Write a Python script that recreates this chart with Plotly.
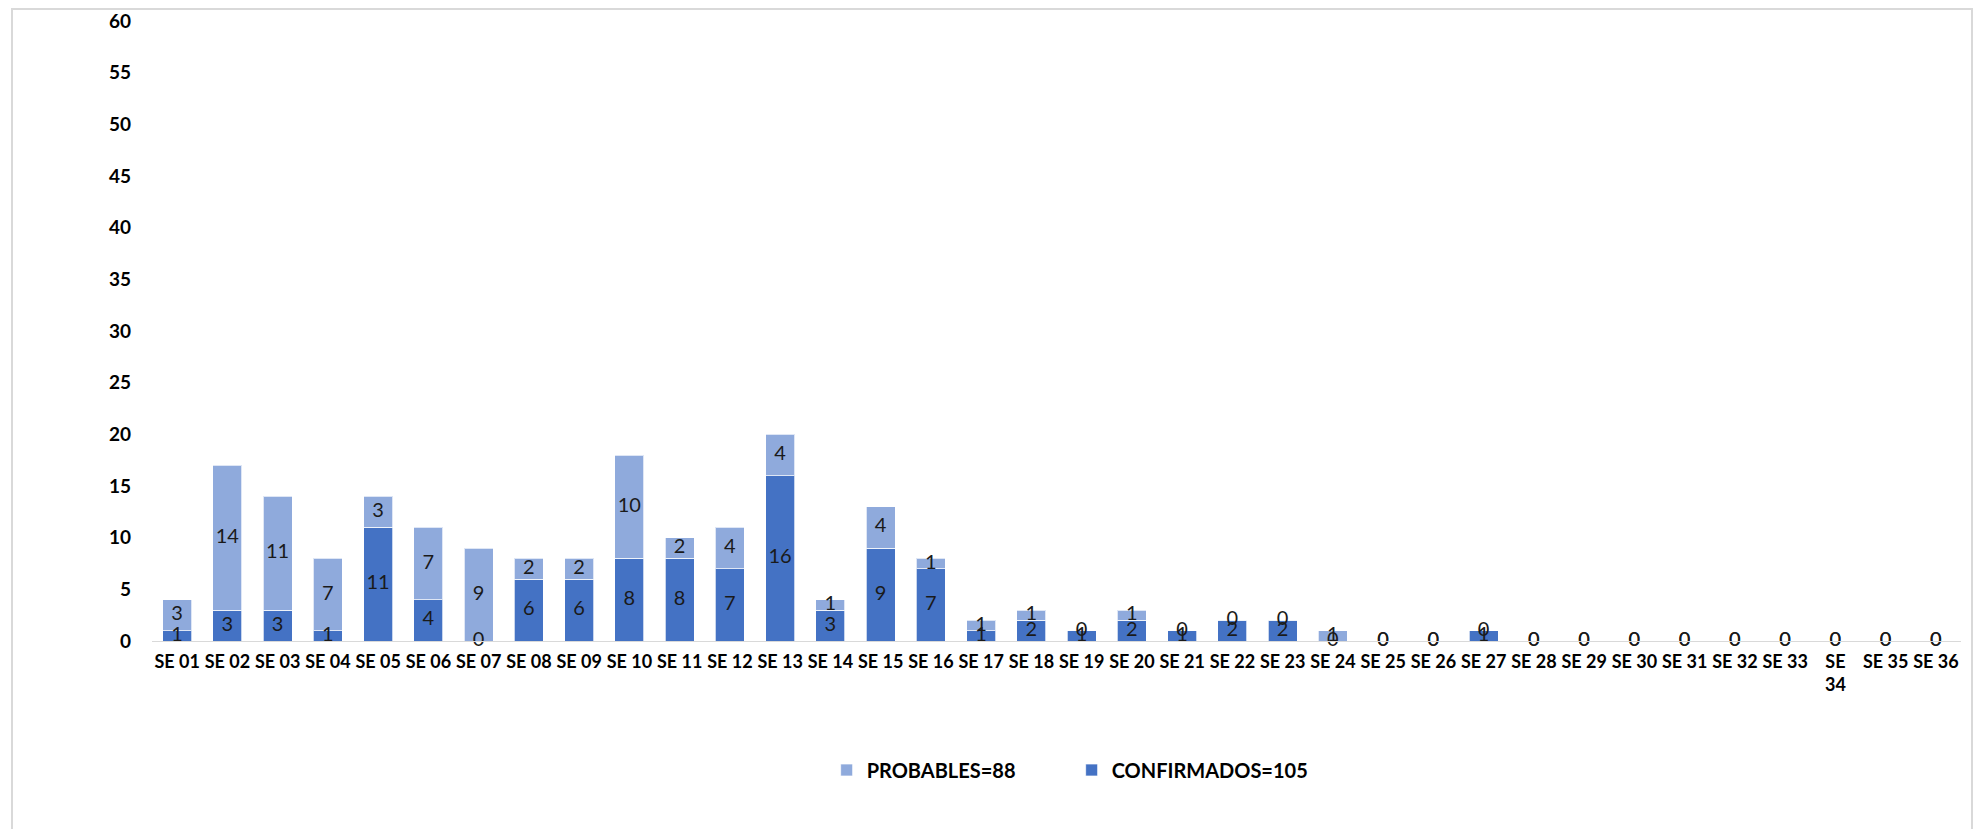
import plotly.graph_objects as go

weeks = [f"SE {i:02d}" for i in range(1, 37)]
tick_text = [("SE<br>34" if w == "SE 34" else w) for w in weeks]
confirmados = [1, 3, 3, 1, 11, 4, 0, 6, 6, 8, 8, 7, 16, 3, 9, 7, 1, 2, 1, 2, 1, 2, 2, 0,
               0, 0, 1, 0, 0, 0, 0, 0, 0, 0, 0, 0]
probables = [3, 14, 11, 7, 3, 7, 9, 2, 2, 10, 2, 4, 4, 1, 4, 1, 1, 1, 0, 1, 0, 0, 0, 1,
             0, 0, 0, 0, 0, 0, 0, 0, 0, 0, 0, 0]
y_ticks = list(range(0, 61, 5))

C_CONF = "#4472C4"
C_PROB = "#8FAADC"
W, H = 1987, 829
L, R, T, B = 144, 34, 13, 196
FONT = "Lato, Carlito, Calibri, sans-serif"

fig = go.Figure()
fig.add_trace(go.Bar(
    x=weeks, y=confirmados, name=f"CONFIRMADOS={sum(confirmados)}",
    marker=dict(color=C_CONF, line=dict(color="rgba(255,255,255,0.7)", width=1)),
    legendrank=2, hoverinfo="x+y"))
fig.add_trace(go.Bar(
    x=weeks, y=probables, name=f"PROBABLES={sum(probables)}",
    marker=dict(color=C_PROB, line=dict(color="rgba(255,255,255,0.7)", width=1)),
    legendrank=1, hoverinfo="x+y"))

# data labels centred in each segment
fig.add_trace(go.Scatter(
    x=weeks, y=[c / 2 for c in confirmados], mode="text",
    text=[str(c) for c in confirmados], textposition="middle center",
    textfont=dict(family=FONT, size=20, color="#1a1a1a"), cliponaxis=False,
    showlegend=False, hoverinfo="skip"))
fig.add_trace(go.Scatter(
    x=weeks, y=[c + p / 2 for c, p in zip(confirmados, probables)], mode="text",
    text=[str(p) for p in probables], textposition="middle center",
    textfont=dict(family=FONT, size=20, color="#1a1a1a"), cliponaxis=False,
    showlegend=False, hoverinfo="skip"))

ph = H - T - B
pw = W - L - R
fig.add_shape(type="rect", xref="paper", yref="paper",
              x0=(4 - L) / pw, x1=(1964 - L) / pw,
              y0=(H - B - 845) / ph, y1=(H - B - 1) / ph,
              line=dict(color="#D9D9D9", width=2), fillcolor="rgba(0,0,0,0)", layer="below")

fig.update_layout(
    width=W, height=H,
    margin=dict(l=L, r=R, t=T, b=B, autoexpand=False),
    barmode="stack", bargap=0.42,
    plot_bgcolor="white", paper_bgcolor="white",
    font=dict(family=FONT, color="#000000"),
    xaxis=dict(type="category", tickmode="array", tickvals=weeks, ticktext=tick_text,
               range=[-0.5, len(weeks) - 0.5], autorange=False,
               tickangle=0, showgrid=False, showline=True, linecolor="#D9D9D9", linewidth=1,
               ticks="", automargin=False, ticklabelstandoff=4, ticklabeloverflow="allow",
               tickfont=dict(size=18, family=FONT, color="#000000", weight="bold"),
               zeroline=False),
    yaxis=dict(range=[0, 60], tickvals=y_ticks, showgrid=False, showline=False,
               zeroline=False, ticks="", ticklabelstandoff=20, automargin=False,
               ticklabeloverflow="allow",
               tickfont=dict(size=19, family=FONT, color="#000000", weight="bold")),
    legend=dict(orientation="h", xref="container", yref="container",
                x=0.412, xanchor="left", y=1 - 762 / 829, yanchor="middle",
                traceorder="normal",
                font=dict(size=20, family=FONT, color="#000000", weight="bold"),
                entrywidth=200, entrywidthmode="pixels"),
    showlegend=True,
)

fig.write_html("out.html")
